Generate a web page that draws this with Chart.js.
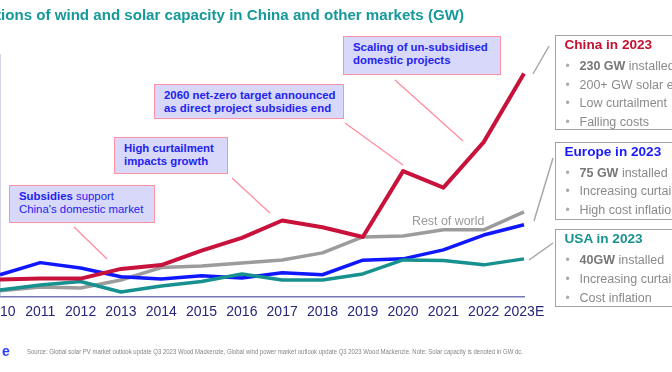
<!DOCTYPE html>
<html>
<head>
<meta charset="utf-8">
<script src="https://cdn.jsdelivr.net/npm/chart.js@4/dist/chart.umd.min.js"></script>
<style>
  html, body { margin: 0; padding: 0; }
  body { width: 672px; height: 372px; position: relative; overflow: hidden; background: #fff;
         font-family: "Liberation Sans", Arial, sans-serif; }
  #wrap { position: absolute; left: -40px; top: 0; width: 712px; height: 372px; }
  .title { position: absolute; right: 208px; top: 6px; white-space: nowrap; font-weight: bold;
           font-size: 15.1px; line-height: 18px; color: #16999a; }
  .note { position: absolute; background: #d8d8fb; border: 1.5px solid #ff91a2; box-sizing: border-box;
          color: #2323f0; font-size: 11.4px; line-height: 12.8px; font-weight: bold; padding: 4px 0 0 9px;
          white-space: nowrap; }
  .note .reg { font-weight: normal; }
  .side { position: absolute; left: 555px; width: 200px; border: 1.5px solid #a3a3a3; box-sizing: border-box;
          background: #fff; padding-left: 8.5px; overflow: hidden; white-space: nowrap; }
  .side .hd { font-weight: bold; font-size: 13.6px; line-height: 17px; }
  .side ul { list-style: none; margin: 4px 0 0 0; padding: 0; }
  .side li { font-size: 12.5px; line-height: 18.7px; height: 18.7px; color: #8a8a8a; }
  .side li .dot { display: inline-block; width: 15px; padding-left: 1px; box-sizing: border-box; color: #ababab; font-size: 12px; line-height: 12px; }
  .side li b { color: #777; }
  .row { position: absolute; left: 412px; top: 213px; font-size: 12.4px; line-height: 16px; color: #9a9a9a; }
  .logo { position: absolute; left: 2px; top: 343px; font-weight: bold; font-size: 14px; color: #2a3cff; }
  #source { position: absolute; left: 27px; top: 347px; font-family: "Liberation Sans Narrow", "Liberation Sans", sans-serif;
            font-size: 7.6px; line-height: 9px; color: #858585; white-space: nowrap; transform-origin: left center; }
  svg { position: absolute; left: 0; top: 0; }
</style>
</head>
<body>
<div id="wrap"><canvas id="chartCanvas" width="712" height="372"></canvas></div>

<div class="title">Annual installations of wind and solar capacity in China and other markets (GW)</div>

<svg width="672" height="372">
  <g stroke="#ff8da0" stroke-width="1.3">
    <line x1="74" y1="227" x2="107" y2="259"/>
    <line x1="232" y1="178" x2="270" y2="213"/>
    <line x1="345" y1="123" x2="403" y2="165"/>
    <line x1="395" y1="80" x2="463" y2="141"/>
  </g>
  <g stroke="#a8a8a8" stroke-width="1.5">
    <line x1="533" y1="74" x2="549" y2="46"/>
    <line x1="534" y1="221" x2="553" y2="158"/>
    <line x1="529" y1="260" x2="553" y2="243"/>
  </g>
</svg>

<div class="note" style="left:9px; top:185px; width:146px; height:38px;">Subsidies <span class="reg">support</span><br><span class="reg">China's domestic market</span></div>
<div class="note" style="left:114px; top:137px; width:114px; height:37px;">High curtailment<br>impacts growth</div>
<div class="note" style="left:154px; top:84px; width:190px; height:35px;">2060 net-zero target announced<br>as direct project subsidies end</div>
<div class="note" style="left:343px; top:36px; width:158px; height:39px;">Scaling of un-subsidised<br>domestic projects</div>

<div class="row">Rest of world</div>

<div class="side" style="top:35px; height:95px;">
  <div class="hd" style="color:#c2102e;">China in 2023</div>
  <ul>
    <li><span class="dot">•</span><b>230 GW</b> installed</li>
    <li><span class="dot">•</span>200+ GW solar expansion</li>
    <li><span class="dot">•</span>Low curtailment</li>
    <li><span class="dot">•</span>Falling costs</li>
  </ul>
</div>
<div class="side" style="top:141.7px; height:78px;">
  <div class="hd" style="color:#1a1aff;">Europe in 2023</div>
  <ul>
    <li><span class="dot">•</span><b>75 GW</b> installed</li>
    <li><span class="dot">•</span>Increasing curtailment</li>
    <li><span class="dot">•</span>High cost inflation</li>
  </ul>
</div>
<div class="side" style="top:229.3px; height:78px;">
  <div class="hd" style="color:#17928f;">USA in 2023</div>
  <ul>
    <li><span class="dot">•</span><b>40GW</b> installed</li>
    <li><span class="dot">•</span>Increasing curtailment</li>
    <li><span class="dot">•</span>Cost inflation</li>
  </ul>
</div>

<div class="logo">e</div>
<div id="source">Source: Global solar PV market outlook update Q3 2023 Wood Mackenzie, Global wind power market outlook update Q3 2023 Wood Mackenzie. Note: Solar capacity is denoted in GW dc.</div>

<script>
// Datos (GW instalados por año)
const years = ['2010', '2011', '2012', '2013', '2014', '2015', '2016', '2017', '2018', '2019', '2020', '2021', '2022', '2023E'];
const china = [18, 19, 19, 29, 33, 48, 61, 79, 72, 62, 130, 113, 160, 231];
const europe = [23, 35.5, 30, 21, 18.7, 22, 19.7, 25, 23, 38, 39.4, 48.7, 64, 74.6];
const usa = [7.3, 12.4, 16, 5.2, 11.4, 16, 23.8, 17.6, 17.6, 23.8, 38.3, 37.6, 33.2, 39.4];
const restOfWorld = [6.5, 10.4, 9.3, 17.6, 30.4, 32, 35.2, 38.3, 45.6, 62, 63, 69.4, 69.4, 88];
const yMax = 250;

const ctx = document.getElementById('chartCanvas').getContext('2d');
const chart = new Chart(ctx, {
    type: 'line',
    data: {
        labels: years,
        datasets: [
            { label: 'China', data: china, borderColor: '#c8123c', borderWidth: 4 },
            { label: 'USA', data: usa, borderColor: '#16918f', borderWidth: 3.5 },
            { label: 'Europe', data: europe, borderColor: '#0f17ff', borderWidth: 3.5 },
            { label: 'Rest of world', data: restOfWorld, borderColor: '#9c9c9c', borderWidth: 3.5 }
        ]
    },
    options: {
        responsive: false,
        animation: false,
        events: [],
        layout: { padding: { left: 0, right: 148, top: 55, bottom: 0 } },
        elements: {
            point: { radius: 0 },
            line: { tension: 0, borderJoinStyle: 'round', borderCapStyle: 'butt' }
        },
        plugins: { legend: { display: false }, tooltip: { enabled: false } },
        scales: {
            x: {
                offset: false,
                grid: { display: false, drawTicks: false },
                border: { display: true, color: '#7676b6', width: 1.5 },
                ticks: {
                    autoSkip: false, maxRotation: 0, padding: 7,
                    color: '#26267a',
                    font: { family: 'Liberation Sans', size: 14 }
                },
                afterFit: function (scale) { scale.height = 75; }
            },
            y: {
                min: 0,
                max: yMax,
                grid: { display: false, drawTicks: false },
                border: { display: true, color: '#a9a9d6', width: 1.5 },
                ticks: { display: false },
                afterFit: function (scale) { scale.width = 40; }
            }
        }
    }
});

// Ajustar el ancho de la nota de fuente
const src = document.getElementById('source');
const w = src.getBoundingClientRect().width;
src.style.transform = 'scaleX(' + (496 / w) + ')';
</script>
</body>
</html>
